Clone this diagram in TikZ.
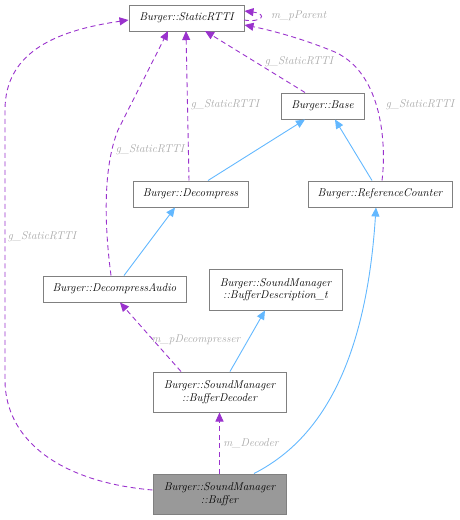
\documentclass[tikz,border=0pt]{standalone}
\usetikzlibrary{arrows.meta}
\definecolor{edgepurple}{HTML}{9A32CD}
\definecolor{edgeblue}{HTML}{63B8FF}
\definecolor{boxgray}{HTML}{808080}
\definecolor{labelgray}{HTML}{A8A8A8}
\definecolor{fillgray}{HTML}{999999}
\begin{document}
\begin{tikzpicture}[x=1pt,y=-1pt,
  cls/.style={draw=boxgray, line width=1pt, fill=white, inner sep=0pt, font=\itshape\fontsize{11.3}{12.5}\selectfont, align=center},
  cur/.style={cls, fill=fillgray},
  usage/.style={draw=edgepurple, line width=0.9pt, dash pattern=on 5pt off 3.5pt, -{Triangle[length=9pt,width=8pt]}, edgepurple},
  inherit/.style={draw=edgeblue, line width=0.9pt, -{Triangle[length=9pt,width=8pt]}, edgeblue},
  lbl/.style={text=labelgray, font=\itshape\fontsize{11.3}{12.5}\selectfont, inner sep=0pt}
]
\useasboundingbox (0,0) rectangle (459,520);
\node[cls, minimum width=115pt, minimum height=26pt] (rtti) at (186.5,18) {Burger::StaticRTTI};
\node[cls, minimum width=83pt, minimum height=26pt] (base) at (322.5,106) {Burger::Base};
\node[cls, minimum width=115pt, minimum height=26pt] (dec) at (190.5,194) {Burger::Decompress};
\node[cls, minimum width=144pt, minimum height=26pt] (rc) at (380,194) {Burger::ReferenceCounter};
\node[cls, minimum width=143pt, minimum height=26pt] (da) at (114.5,289) {Burger::DecompressAudio};
\node[cls, minimum width=133pt, minimum height=41pt] (bd) at (275.5,289.5) {Burger::SoundManager\\::BufferDescription\_t};
\node[cls, minimum width=133pt, minimum height=40pt] (bdec) at (219.5,392) {Burger::SoundManager\\::BufferDecoder};
\node[cur, minimum width=133pt, minimum height=40pt] (buf) at (219.5,494) {Burger::SoundManager\\::Buffer};

% self loop
\coordinate (loopa) at (244,20);
\draw[usage] (loopa) .. controls (262,23) and (268,14) .. (rtti.east |- 0,11);
\node[lbl, anchor=west] (lp) at (271,16) {m\_pParent};

% base -> rtti
\draw[usage] (base.north -| 305,0) -- (205,31);
\node[lbl] (l1) at (299,62) {g\_StaticRTTI};

% decompress -> rtti
\draw[usage] (dec.north -| 189,0) -- (186,31);
\node[lbl] (l2) at (225,105) {g\_StaticRTTI};

% decompressaudio -> rtti
\draw[usage] (da.north -| 111,0) .. controls (105,230) and (102,170) .. (118,130) -- (168,31);
\node[lbl] (l3) at (150,150) {g\_StaticRTTI};

% buffer -> rtti
\draw[usage] (buf.west |- 0,490) .. controls (60,482) and (5,440) .. (5,380) -- (5,110) .. controls (5,50) and (60,30) .. (rtti.west |- 0,20);
\node[lbl] (l4) at (42,237) {g\_StaticRTTI};

% refcounter -> rtti
\draw[usage] (rc.north -| 382,0) .. controls (386,150) and (385,70) .. (330,50) .. controls (300,38) and (270,30) .. (rtti.east |- 0,25);
\node[lbl] (l5) at (420,105) {g\_StaticRTTI};

% inheritance
\draw[inherit] (dec.north -| 208,0) -- (base.south -| 305,0);
\draw[inherit] (rc.north -| 372,0) -- (base.south -| 335,0);
\draw[inherit] (da.north -| 124,0) -- (dec.south -| 175,0);
\draw[inherit] (bdec.north -| 230,0) -- (bd.south -| 265,0);
\draw[inherit] (buf.north -| 254,0) .. controls (310,445) and (365,380) .. (rc.south -| 376,0);

% buffer decoder -> decompress audio
\draw[usage] (bdec.north -| 181,0) -- (da.south -| 120,0);
\node[lbl] (l6) at (196,340) {m\_pDecompresser};

% buffer -> buffer decoder
\draw[usage] (buf.north) -- (bdec.south);
\node[lbl] (l7) at (251,443) {m\_Decoder};
\end{tikzpicture}
\end{document}
